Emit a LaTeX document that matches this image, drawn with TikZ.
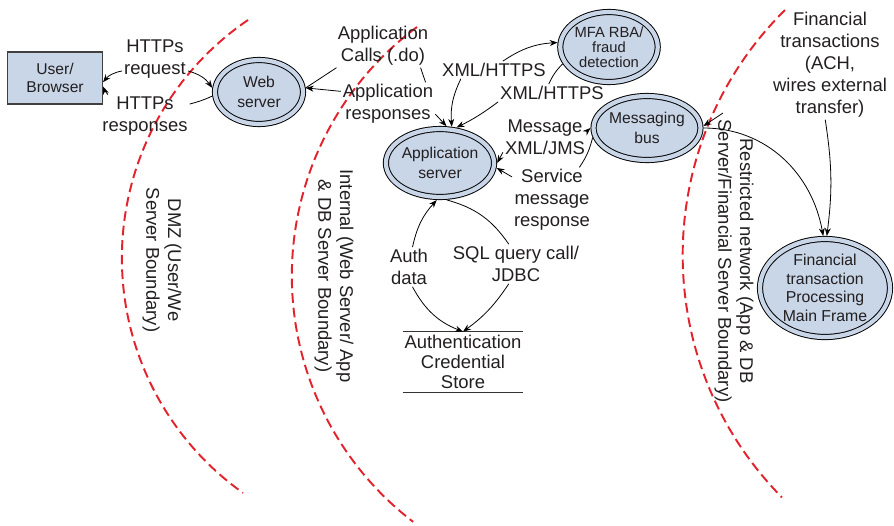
\documentclass[tikz,border=0pt]{standalone}
\usepackage{fontspec}
\setmainfont{Liberation Sans}
\usetikzlibrary{shapes.geometric,arrows.meta}
\definecolor{boxblue}{RGB}{200,214,232}
\definecolor{bndred}{RGB}{226,35,45}
\definecolor{ink}{RGB}{35,31,32}

\begin{document}
\begin{tikzpicture}[x=0.02cm,y=0.02cm,
    >={Stealth[length=4.5pt,width=3.4pt]},
    srv/.style={ellipse,draw=black,fill=boxblue,double=boxblue,double distance=2.4pt,
        line width=0.55pt,inner sep=0pt,outer sep=1.75pt,align=center,text=ink,
        font=\fontsize{8.9}{11}\selectfont},
    ubox/.style={draw=black!75,fill=boxblue,line width=0.6pt,minimum width=1.9cm,
        minimum height=1.04cm,align=center,text=ink,font=\fontsize{8.9}{10.2}\selectfont},
    lbl/.style={align=center,inner sep=1pt,text=ink,font=\fontsize{10.5}{12.5}\selectfont},
    bnd/.style={draw=bndred,line width=1.1pt,dash pattern=on 5.5pt off 2.8pt},
    conn/.style={draw=black,line width=0.45pt}]

\useasboundingbox (0,0) rectangle (894,-525);

\draw[bnd] (248,-20) arc[start angle=124.2,end angle=234.6,radius=288];
\draw[bnd] (417,-27) arc[start angle=126.6,end angle=232.5,radius=310];
\draw[bnd] (785,-10) arc[start angle=134.7,end angle=224.6,radius=345];

\node[lbl,rotate=-90] (dmz) at (162,-260) {DMZ (User/We\\Server Boundary)};
\node[lbl,rotate=-90] (internal) at (334,-276) {Internal (Web Server/ App\\\& DB Server Boundary)};
\node[lbl,rotate=-90] (restricted) at (734,-261) {Restricted network (App \& DB\\Server/Financial Server Boundary)};

\node[ubox] (user) at (55,-78) {User/\\Browser};
\node[srv,minimum width=1.76cm,minimum height=1.28cm] (web) at (259,-92) {Web\\server};
\node[srv,minimum width=1.76cm,minimum height=1.36cm] (app) at (440,-163) {Application\\server};
\node[srv,minimum width=1.92cm,minimum height=1.40cm,font=\fontsize{8.4}{8.6}\selectfont] (mfa) at (609,-47) {MFA RBA/\\fraud\\detection};
\node[srv,minimum width=1.88cm,minimum height=1.28cm] (bus) at (647,-128) {Messaging\\bus};
\node[srv,minimum width=2.6cm,minimum height=1.96cm,font=\fontsize{9}{10.6}\selectfont] (frame) at (825,-288) {Financial\\transaction\\Processing\\Main Frame};
\node[lbl,minimum width=2.4cm,minimum height=1.2cm,inner sep=0pt,font=\fontsize{10.5}{11.4}\selectfont] (cred) at (463,-362) {Authentication\\Credential\\Store};
\draw[black!80,line width=0.6pt] (cred.north west) -- (cred.north east);
\draw[black!80,line width=0.6pt] (cred.south west) -- (cred.south east);

\node[lbl] (reqlbl) at (155,-59) {HTTPs\\request};
\node[lbl] (resplbl) at (145,-116) {HTTPs\\responses};
\node[lbl] (calls) at (383,-46) {Application\\Calls (.do)};
\node[lbl] (appresp) at (388,-104) {Application\\responses};
\node[lbl] (xmla) at (494,-70) {XML/HTTPS};
\node[lbl] (xmlb) at (552,-93) {XML/HTTPS};
\node[lbl] (msg) at (545,-137) {Message\\XML/JMS};
\node[lbl] (svc) at (552,-200) {Service\\message\\response};
\node[lbl] (auth) at (409,-267) {Auth\\data};
\node[lbl] (sql) at (516,-264) {SQL query call/\\JDBC};
\node[lbl] (fin) at (830,-65) {Financial\\transactions\\(ACH,\\wires external\\transfer)};
\coordinate (finlead) at (723,-113);

\draw[conn,->] (reqlbl.200) to[bend right=20] (user.-5);
\draw[conn,->] (reqlbl.-20) to[bend left=20] (web.175);
\draw[conn] (web.185) to[bend left=5] (resplbl.15);
\draw[conn,->] (resplbl.150) to[bend left=10] (user.-10);

\draw[conn] (web.5) -- (calls.205);
\draw[conn,->] (appresp.165) -- (web.5);
\draw[conn] (calls.-30) -- (appresp.30);
\draw[conn,->] (appresp.-12) -- (app.80);

\draw[conn,->] (xmla.195) to[bend right=15] (app.72);
\draw[conn,->] (xmla.45) to[bend left=15] (mfa.175);
\draw[conn] (mfa.200) to[bend right=10] (xmlb.110);
\draw[conn,->] (xmlb.south west) to[bend left=5] (app.65);

\draw[conn,->] (msg.8) -- (bus.180);
\draw[conn,->] (msg.200) -- (app.0);
\draw[conn,->] (svc.150) -- (app.-5);
\draw[conn] (svc.50) to[bend right=10] (bus.190);

\draw[conn,->] (finlead) -- (bus.2);
\draw[conn,->] (bus.0) to[out=0,in=100] (frame.92);
\draw[conn,->] (fin.-95) to[bend left=8] (frame.88);

\draw[conn,->] (auth.80) to[bend left=15] (app.265);
\draw[conn,->] (auth.-80) to[bend right=20] (cred.north);
\draw[conn] (app.280) to[bend left=20] (sql.110);
\draw[conn,->] (sql.-110) to[bend left=10] (cred.north);
\end{tikzpicture}
\end{document}
